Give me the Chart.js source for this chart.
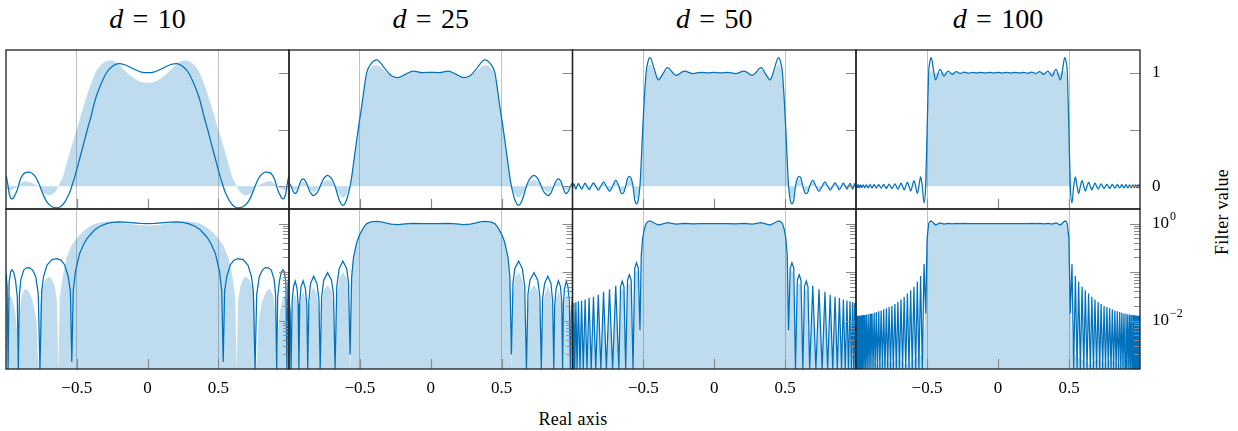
<!DOCTYPE html>
<html>
<head>
<meta charset="utf-8">
<title>Filter approximations</title>
<script src="https://cdn.jsdelivr.net/npm/chart.js@4.4.1/dist/chart.umd.min.js"></script>
<style>
  body { margin: 0; background: #fff; }
  #fig { position: relative; width: 1238px; height: 431px; overflow: hidden;
         font-family: 'Liberation Serif', 'DejaVu Serif', serif; color: #000; }
  #fig canvas { position: absolute; left: 0; top: 0; }
  .ttl { position: absolute; top: 5px; font-size: 28px; line-height: 28px;
         transform: translateX(-50%); white-space: nowrap; }
  .ttl .eq { margin: 0 0.33em; }
  #xlab { position: absolute; left: 573px; top: 410px; font-size: 18px; line-height: 18px;
          letter-spacing: 0.3px; transform: translateX(-50%); white-space: nowrap; }
  #ylab { position: absolute; left: 1222px; top: 212px; font-size: 18px; line-height: 18px;
          letter-spacing: 0.3px; transform: translate(-50%, -50%) rotate(-90deg); white-space: nowrap; }
</style>
</head>
<body>
<div id="fig">
  <div id="xlab">Real axis</div>
  <div id="ylab">Filter value</div>
</div>
<script>
// polynomial degree of each column
const degrees = [10, 25, 50, 100];

// axis ticks
const xTicks = [-0.5, 0, 0.5];
const linTicks = [0, 0.5, 1];
const linLabels = ['0', '', '1'];
const logTicks = [1, 0.01];
const logExponents = ['0', '\u22122'];

// d = 10
const xLine10 = [-1.000, -0.992, -0.985, -0.978, -0.968, -0.958, -0.946, -0.932, -0.920, -0.913, -0.905, -0.895, -0.875, -0.855, -0.834, -0.812, -0.790, -0.772, -0.760, -0.748, -0.735, -0.710, -0.675, -0.640, -0.610, -0.585, -0.560, -0.545, -0.535, -0.525, -0.510, -0.480, -0.450, -0.425, -0.400, -0.370, -0.335, -0.290, -0.250, -0.206, -0.160, -0.100, -0.050, 0,
  0.050, 0.100, 0.160, 0.206, 0.250, 0.290, 0.335, 0.370, 0.400, 0.425, 0.450, 0.480, 0.510, 0.525, 0.535, 0.545, 0.560, 0.585, 0.610, 0.640, 0.675, 0.710, 0.735, 0.748, 0.760, 0.772, 0.790, 0.812, 0.834, 0.855, 0.875, 0.895, 0.905, 0.913, 0.920, 0.932, 0.946, 0.958, 0.968, 0.978, 0.985, 0.992, 1.000];
const yLine10 = [0.094, 0.05, 0, -0.06, -0.1, -0.111, -0.1, -0.065, -0.03, 0, 0.035, 0.07, 0.11, 0.122, 0.124, 0.11, 0.08, 0.035, 0, -0.04, -0.08, -0.14, -0.18, -0.19, -0.175, -0.14, -0.08, -0.04, 0.0014, 0.04, 0.1, 0.24, 0.38, 0.5, 0.61, 0.76, 0.88, 1.0, 1.055, 1.08, 1.07, 1.035, 1.008, 1.0,
  1.008, 1.035, 1.07, 1.08, 1.055, 1.0, 0.88, 0.76, 0.61, 0.5, 0.38, 0.24, 0.1, 0.04, 0.0014, -0.04, -0.08, -0.14, -0.175, -0.19, -0.18, -0.14, -0.08, -0.04, 0, 0.035, 0.08, 0.11, 0.124, 0.122, 0.11, 0.07, 0.035, 0, -0.03, -0.065, -0.1, -0.111, -0.1, -0.06, 0, 0.05, 0.094];
const xFill10 = [-1.000, -0.985, -0.972, -0.955, -0.935, -0.922, -0.913, -0.903, -0.890, -0.865, -0.840, -0.810, -0.785, -0.771, -0.758, -0.745, -0.720, -0.700, -0.680, -0.655, -0.640, -0.630, -0.620, -0.600, -0.570, -0.535, -0.500, -0.465, -0.430, -0.395, -0.360, -0.320, -0.265, -0.220, -0.160, -0.100, -0.050, 0,
  0.050, 0.100, 0.160, 0.220, 0.265, 0.320, 0.360, 0.395, 0.430, 0.465, 0.500, 0.535, 0.570, 0.600, 0.620, 0.630, 0.640, 0.655, 0.680, 0.700, 0.720, 0.745, 0.758, 0.771, 0.785, 0.810, 0.840, 0.865, 0.890, 0.903, 0.913, 0.922, 0.935, 0.955, 0.972, 0.985, 1.000];
const yFill10 = [-0.02, -0.03, -0.033, -0.028, -0.015, -0.006, 0, 0.015, 0.032, 0.045, 0.04, 0.025, 0.01, 0, -0.02, -0.045, -0.07, -0.08, -0.075, -0.05, -0.025, 0, 0.03, 0.08, 0.21, 0.36, 0.5, 0.65, 0.79, 0.92, 1.02, 1.08, 1.11, 1.09, 1.02, 0.956, 0.92, 0.912,
  0.92, 0.956, 1.02, 1.09, 1.11, 1.08, 1.02, 0.92, 0.79, 0.65, 0.5, 0.36, 0.21, 0.08, 0.03, 0, -0.025, -0.05, -0.075, -0.08, -0.07, -0.045, -0.02, 0, 0.01, 0.025, 0.04, 0.045, 0.032, 0.015, 0, -0.006, -0.015, -0.028, -0.033, -0.03, -0.02];

// d = 25 (line and fill share the same abscissae)
const x25 = [-1.000, -0.992, -0.985, -0.978, -0.968, -0.956, -0.943, -0.936, -0.930, -0.924, -0.915, -0.900, -0.884, -0.874, -0.868, -0.860, -0.848, -0.826, -0.803, -0.789, -0.780, -0.770, -0.755, -0.728, -0.700, -0.686, -0.675, -0.663, -0.646, -0.620, -0.594, -0.580, -0.569, -0.558, -0.545, -0.522, -0.505, -0.487, -0.470, -0.452, -0.420, -0.380, -0.350, -0.320, -0.280, -0.233, -0.180, -0.123, -0.060, 0,
  0.060, 0.123, 0.180, 0.233, 0.280, 0.320, 0.350, 0.380, 0.420, 0.452, 0.470, 0.487, 0.505, 0.522, 0.545, 0.558, 0.569, 0.580, 0.594, 0.620, 0.646, 0.663, 0.675, 0.686, 0.700, 0.728, 0.755, 0.770, 0.780, 0.789, 0.803, 0.826, 0.848, 0.860, 0.868, 0.874, 0.884, 0.900, 0.915, 0.924, 0.930, 0.936, 0.943, 0.956, 0.968, 0.978, 0.985, 0.992, 1.000];
const line25 = [0.03, 0.015, 0, -0.025, -0.05, -0.065, -0.045, -0.022, 0, 0.025, 0.05, 0.066, 0.045, 0.02, 0, -0.025, -0.058, -0.082, -0.058, -0.028, 0, 0.03, 0.068, 0.097, 0.068, 0.035, 0, -0.05, -0.118, -0.168, -0.12, -0.06, 0.002, 0.08, 0.2, 0.41, 0.56, 0.706, 0.86, 1.0, 1.08, 1.112, 1.08, 1.03, 0.975, 0.957, 0.985, 1.015, 1.0, 1.004,
  1.0, 1.015, 0.985, 0.957, 0.975, 1.03, 1.08, 1.112, 1.08, 1.0, 0.86, 0.706, 0.56, 0.41, 0.2, 0.08, 0.002, -0.06, -0.12, -0.168, -0.118, -0.05, 0, 0.035, 0.068, 0.097, 0.068, 0.03, 0, -0.028, -0.058, -0.082, -0.058, -0.025, 0, 0.02, 0.045, 0.066, 0.05, 0.025, 0, -0.022, -0.045, -0.065, -0.05, -0.025, 0, 0.015, 0.03];
const fill25 = [0.02, 0.01, 0, -0.015, -0.03, -0.035, -0.025, -0.012, 0, 0.015, 0.03, 0.04, 0.028, 0.012, 0, -0.015, -0.035, -0.05, -0.035, -0.016, 0, 0.018, 0.04, 0.055, 0.04, 0.02, 0, -0.03, -0.07, -0.1, -0.075, -0.038, 0, 0.08, 0.2, 0.41, 0.56, 0.70, 0.85, 0.97, 1.045, 1.065, 1.045, 1.01, 0.975, 0.962, 0.985, 1.008, 1.0, 1.0,
  1.0, 1.008, 0.985, 0.962, 0.975, 1.01, 1.045, 1.065, 1.045, 0.97, 0.85, 0.70, 0.56, 0.41, 0.2, 0.08, 0, -0.038, -0.075, -0.1, -0.07, -0.03, 0, 0.02, 0.04, 0.055, 0.04, 0.018, 0, -0.016, -0.035, -0.05, -0.035, -0.015, 0, 0.012, 0.028, 0.04, 0.03, 0.015, 0, -0.012, -0.025, -0.035, -0.03, -0.015, 0, 0.01, 0.02];

// d = 50
const x50 = [-1.000, -0.996, -0.990, -0.984, -0.976, -0.968, -0.958, -0.947, -0.936, -0.924, -0.911, -0.898, -0.883, -0.868, -0.852, -0.836, -0.818, -0.800, -0.781, -0.761, -0.739, -0.717, -0.695, -0.673, -0.661, -0.649, -0.637, -0.625, -0.612, -0.599, -0.586, -0.573, -0.561, -0.548, -0.536, -0.524, -0.515, -0.505, -0.493, -0.481, -0.467, -0.453, -0.423, -0.394, -0.362, -0.331, -0.270, -0.210, -0.150, -0.094, -0.047, 0,
  0.047, 0.094, 0.150, 0.210, 0.270, 0.331, 0.362, 0.394, 0.423, 0.453, 0.467, 0.481, 0.493, 0.505, 0.515, 0.524, 0.536, 0.548, 0.561, 0.573, 0.586, 0.599, 0.612, 0.625, 0.637, 0.649, 0.661, 0.673, 0.695, 0.717, 0.739, 0.761, 0.781, 0.800, 0.818, 0.836, 0.852, 0.868, 0.883, 0.898, 0.911, 0.924, 0.936, 0.947, 0.958, 0.968, 0.976, 0.984, 0.990, 0.996, 1.000];
const line50 = [-0.015, 0, 0.023, 0, -0.024, 0, 0.025, 0, -0.026, 0, 0.027, 0, -0.029, 0, 0.031, 0, -0.034, 0, 0.039, 0, -0.044, 0, 0.052, 0, -0.05, -0.065, -0.05, 0, 0.068, 0.088, 0.068, 0, -0.12, -0.155, -0.12, 0.0063, 0.22, 0.5, 0.78, 1.0, 1.1, 1.133, 1.03, 0.936, 0.99, 1.045, 0.977, 1.015, 0.992, 1.004, 0.998, 1.002,
  0.998, 1.004, 0.992, 1.015, 0.977, 1.045, 0.99, 0.936, 1.03, 1.133, 1.1, 1.0, 0.78, 0.5, 0.22, 0.0063, -0.12, -0.155, -0.12, 0, 0.068, 0.088, 0.068, 0, -0.05, -0.065, -0.05, 0, 0.052, 0, -0.044, 0, 0.039, 0, -0.034, 0, 0.031, 0, -0.029, 0, 0.027, 0, -0.026, 0, 0.025, 0, -0.024, 0, 0.023, 0, -0.015];
const fill50 = [-0.01, 0, 0.016, 0, -0.017, 0, 0.018, 0, -0.018, 0, 0.019, 0, -0.02, 0, 0.022, 0, -0.024, 0, 0.027, 0, -0.031, 0, 0.036, 0, -0.036, -0.046, -0.036, 0, 0.048, 0.062, 0.048, 0, -0.085, -0.11, -0.085, 0.004, 0.22, 0.5, 0.77, 0.97, 1.05, 1.075, 1.01, 0.96, 0.995, 1.025, 0.985, 1.008, 0.996, 1.002, 0.999, 1.0,
  0.999, 1.002, 0.996, 1.008, 0.985, 1.025, 0.995, 0.96, 1.01, 1.075, 1.05, 0.97, 0.77, 0.5, 0.22, 0.004, -0.085, -0.11, -0.085, 0, 0.048, 0.062, 0.048, 0, -0.036, -0.046, -0.036, 0, 0.036, 0, -0.031, 0, 0.027, 0, -0.024, 0, 0.022, 0, -0.02, 0, 0.019, 0, -0.018, 0, 0.018, 0, -0.017, 0, 0.016, 0, -0.01];

// d = 100
const x100 = [-1.000, -0.999, -0.998, -0.996, -0.994, -0.993, -0.991, -0.989, -0.986, -0.984, -0.981, -0.978, -0.974, -0.971, -0.967, -0.963, -0.958, -0.954, -0.949, -0.944, -0.938, -0.933, -0.927, -0.921, -0.914, -0.908, -0.901, -0.895, -0.887, -0.880, -0.872, -0.865, -0.857, -0.849, -0.840, -0.832, -0.823, -0.814, -0.805, -0.796, -0.786, -0.777, -0.767, -0.757, -0.747, -0.737, -0.726, -0.716, -0.705, -0.694, -0.683, -0.672, -0.661, -0.650, -0.638, -0.627, -0.615, -0.604, -0.592, -0.580, -0.568, -0.557, -0.545, -0.533, -0.521, -0.509, -0.499, -0.488, -0.479, -0.470, -0.455, -0.440, -0.408, -0.380, -0.352, -0.322, -0.294, -0.266, -0.237, -0.209, -0.180, -0.150, -0.120, -0.090, -0.060, -0.030, 0,
  0.030, 0.060, 0.090, 0.120, 0.150, 0.180, 0.209, 0.237, 0.266, 0.294, 0.322, 0.352, 0.380, 0.408, 0.440, 0.455, 0.470, 0.479, 0.488, 0.499, 0.509, 0.521, 0.533, 0.545, 0.557, 0.568, 0.580, 0.592, 0.604, 0.615, 0.627, 0.638, 0.650, 0.661, 0.672, 0.683, 0.694, 0.705, 0.716, 0.726, 0.737, 0.747, 0.757, 0.767, 0.777, 0.786, 0.796, 0.805, 0.814, 0.823, 0.832, 0.840, 0.849, 0.857, 0.865, 0.872, 0.880, 0.887, 0.895, 0.901, 0.908, 0.914, 0.921, 0.927, 0.933, 0.938, 0.944, 0.949, 0.954, 0.958, 0.963, 0.967, 0.971, 0.974, 0.978, 0.981, 0.984, 0.986, 0.989, 0.991, 0.993, 0.994, 0.996, 0.998, 0.999, 1.000];
const line100 = [-0.010, 0, 0.0125, 0, -0.0125, 0, 0.0125, 0, -0.0125, 0, 0.0125, 0, -0.0126, 0, 0.0127, 0, -0.0128, 0, 0.013, 0, -0.013, 0, 0.0133, 0, -0.0135, 0, 0.0138, 0, -0.014, 0, 0.0145, 0, -0.015, 0, 0.0155, 0, -0.016, 0, 0.017, 0, -0.018, 0, 0.019, 0, -0.020, 0, 0.022, 0, -0.024, 0, 0.027, 0, -0.031, 0, 0.036, 0, -0.042, 0, 0.050, 0, -0.063, 0, 0.083, 0, -0.146, 0.014, 0.5, 1.0, 1.1, 1.133, 1.03, 0.936, 1.03, 0.971, 1.015, 0.986, 1.01, 0.993, 1.006, 0.995, 1.004, 0.996, 1.004, 0.997, 1.003, 0.997, 1.003,
  0.997, 1.003, 0.997, 1.004, 0.996, 1.004, 0.995, 1.006, 0.993, 1.01, 0.986, 1.015, 0.971, 1.03, 0.936, 1.03, 1.133, 1.1, 1.0, 0.5, 0.014, -0.146, 0, 0.083, 0, -0.063, 0, 0.050, 0, -0.042, 0, 0.036, 0, -0.031, 0, 0.027, 0, -0.024, 0, 0.022, 0, -0.020, 0, 0.019, 0, -0.018, 0, 0.017, 0, -0.016, 0, 0.0155, 0, -0.015, 0, 0.0145, 0, -0.014, 0, 0.0138, 0, -0.0135, 0, 0.0133, 0, -0.013, 0, 0.013, 0, -0.0128, 0, 0.0127, 0, -0.0126, 0, 0.0125, 0, -0.0125, 0, 0.0125, 0, -0.0125, 0, 0.0125, 0, -0.010];
const xFill100 = [-1.000, -0.950, -0.900, -0.850, -0.800, -0.750, -0.700, -0.650, -0.600, -0.560, -0.530, -0.515, -0.508, -0.503, -0.498, -0.492, -0.486, -0.478, -0.465, -0.440, -0.400, -0.300, -0.150, 0,
  0.150, 0.300, 0.400, 0.440, 0.465, 0.478, 0.486, 0.492, 0.498, 0.503, 0.508, 0.515, 0.530, 0.560, 0.600, 0.650, 0.700, 0.750, 0.800, 0.850, 0.900, 0.950, 1.000];
const fill100 = [0.0015, 0.0013, 0.0016, 0.0012, 0.0015, 0.0013, 0.0016, 0.0012, 0.0015, 0.0018, 0.002, 0.01, 0.15, 0.33, 0.5, 0.72, 0.9, 1.0, 1.02, 0.995, 1.003, 1.0, 1.0, 1.0,
  1.0, 1.0, 1.003, 0.995, 1.02, 1.0, 0.9, 0.72, 0.5, 0.33, 0.15, 0.01, 0.002, 0.0018, 0.0015, 0.0012, 0.0016, 0.0013, 0.0015, 0.0012, 0.0016, 0.0013, 0.0015];

const series = [
  { lineX: xLine10, line: yLine10, fillX: xFill10, fill: yFill10 },
  { lineX: x25, line: line25, fillX: x25, fill: fill25 },
  { lineX: x50, line: line50, fillX: x50, fill: fill50 },
  { lineX: x100, line: line100, fillX: xFill100, fill: fill100 }
];

// panel edges in page pixels
const W = 1238, H = 431;
const colLeft = [6, 289, 572.5, 856];
const colRight = [289, 572.5, 856, 1140];
const rowTop = [50, 209];
const rowBottom = [209, 369];

const LIN_MIN = -0.2, LIN_MAX = 1.2;
const LOG_MIN = 1e-3, LOG_MAX = 2;

const blue = 'rgb(0,114,189)';
const blueFill = 'rgba(0,114,189,0.25)';
const serif = "'Liberation Serif', 'DejaVu Serif', serif";
const TICK_FONT = 17;
const Y_LABEL_GAP = 12;   // from the right frame to the y tick labels

const fig = document.getElementById('fig');

// column titles
degrees.forEach((d, i) => {
  const t = document.createElement('div');
  t.className = 'ttl';
  t.style.left = ((colLeft[i] + colRight[i]) / 2) + 'px';
  t.innerHTML = '<i>d</i><span class="eq">=</span>' + d;
  fig.appendChild(t);
});

function points(xs, ys, log) {
  return xs.map((x, i) => ({
    x: x,
    y: log ? Math.max(Math.abs(ys[i]), LOG_MIN) : ys[i]
  }));
}

function fmtX(v) {
  return v < 0 ? '\u2212' + (-v) : String(v);
}

// frame and inward tick marks of each panel; exponents of the log labels
const framePlugin = {
  id: 'frame',
  afterDatasetsDraw(chart, args, opts) {
    const ctx = chart.ctx, a = chart.chartArea;
    const sx = chart.scales.x, sy = chart.scales.y;
    ctx.save();
    ctx.strokeStyle = '#8a8a8a';
    ctx.lineWidth = 1.2;
    ctx.beginPath();
    xTicks.forEach(v => {
      const px = Math.round(sx.getPixelForValue(v)) + 0.5;
      ctx.moveTo(px, a.bottom);
      ctx.lineTo(px, a.bottom - 10);
    });
    opts.marks.forEach(m => {
      const py = Math.round(sy.getPixelForValue(m.v)) + 0.5;
      ctx.moveTo(a.right, py);
      ctx.lineTo(a.right - m.len, py);
    });
    ctx.stroke();
    ctx.strokeStyle = '#1e1e1e';
    ctx.lineWidth = 1.3;
    ctx.strokeRect(a.left, a.top, a.right - a.left, a.bottom - a.top);
    ctx.restore();
  },
  afterDraw(chart, args, opts) {
    if (!opts.exponents) return;
    const ctx = chart.ctx, sy = chart.scales.y;
    ctx.save();
    ctx.font = TICK_FONT + 'px ' + serif;
    const base = ctx.measureText('10').width;
    ctx.font = Math.round(TICK_FONT * 0.72) + 'px ' + serif;
    ctx.fillStyle = '#000';
    ctx.textBaseline = 'middle';
    ctx.textAlign = 'left';
    logTicks.forEach((v, i) => {
      const py = sy.getPixelForValue(v);
      ctx.fillText(logExponents[i], chart.chartArea.right + Y_LABEL_GAP + base + 1, py - 7);
    });
    ctx.restore();
  }
};

const linMarks = linTicks.map(v => ({ v: v, len: 10 }));
const logMarks = [];
for (let k = -3; k <= 0; k++) {
  for (let m = 1; m <= 9; m++) {
    const v = m * Math.pow(10, k);
    if (v > LOG_MIN && v < LOG_MAX) logMarks.push({ v: v, len: m === 1 ? 10 : 6 });
  }
}

function makeChart(col, row) {
  const canvas = document.createElement('canvas');
  canvas.width = W;
  canvas.height = H;
  fig.appendChild(canvas);

  const s = series[col];
  const log = row === 1;
  const lastCol = col === degrees.length - 1;
  const xAxisH = log ? 40 : 0;
  const yAxisW = lastCol ? 70 : 0;
  const font = { family: serif, size: TICK_FONT };

  const yScale = log ? {
    type: 'logarithmic', min: LOG_MIN, max: LOG_MAX
  } : {
    type: 'linear', min: LIN_MIN, max: LIN_MAX
  };
  Object.assign(yScale, {
    position: 'right',
    display: lastCol,
    grid: { display: false, drawTicks: false, tickLength: 0 },
    border: { display: false },
    afterBuildTicks: sc => {
      sc.ticks = (log ? logTicks : linTicks).map(v => ({ value: v }));
    },
    afterFit: sc => { sc.width = yAxisW; },
    ticks: {
      padding: Y_LABEL_GAP,
      color: '#000',
      font: font,
      autoSkip: false,
      callback: (v, i) => log ? '10' : linLabels[i]
    }
  });

  new Chart(canvas, {
    type: 'line',
    data: {
      datasets: [{
        data: points(s.fillX, s.fill, log),
        borderColor: 'rgba(0,0,0,0)',
        borderWidth: 0,
        backgroundColor: blueFill,
        fill: log ? 'start' : 'origin',
        pointRadius: 0,
        tension: 0,
        cubicInterpolationMode: log ? 'default' : 'monotone'
      }, {
        data: points(s.lineX, s.line, log),
        borderColor: blue,
        borderWidth: 1.25,
        fill: false,
        pointRadius: 0,
        tension: 0,
        cubicInterpolationMode: log ? 'default' : 'monotone'
      }]
    },
    options: {
      responsive: false,
      animation: false,
      events: [],
      layout: {
        padding: {
          left: colLeft[col],
          top: rowTop[row],
          right: W - colRight[col] - yAxisW,
          bottom: H - rowBottom[row] - xAxisH
        }
      },
      plugins: {
        legend: { display: false },
        tooltip: { enabled: false },
        frame: { marks: log ? logMarks : linMarks, exponents: log && lastCol }
      },
      scales: {
        x: {
          type: 'linear',
          min: -1,
          max: 1,
          border: { display: false },
          grid: {
            drawTicks: false,
            lineWidth: 1,
            color: c => (c.tick && c.tick.value !== 0) ? '#c2c2c2' : 'rgba(0,0,0,0)'
          },
          afterBuildTicks: sc => {
            sc.ticks = xTicks.map(v => ({ value: v }));
          },
          afterFit: sc => { sc.height = xAxisH; },
          ticks: {
            display: log,
            padding: 9,
            color: '#000',
            font: font,
            maxRotation: 0,
            autoSkip: false,
            callback: v => fmtX(v)
          }
        },
        y: yScale
      }
    },
    plugins: [framePlugin]
  });
}

for (let row = 0; row < 2; row++) {
  for (let col = 0; col < degrees.length; col++) {
    makeChart(col, row);
  }
}
</script>
</body>
</html>
